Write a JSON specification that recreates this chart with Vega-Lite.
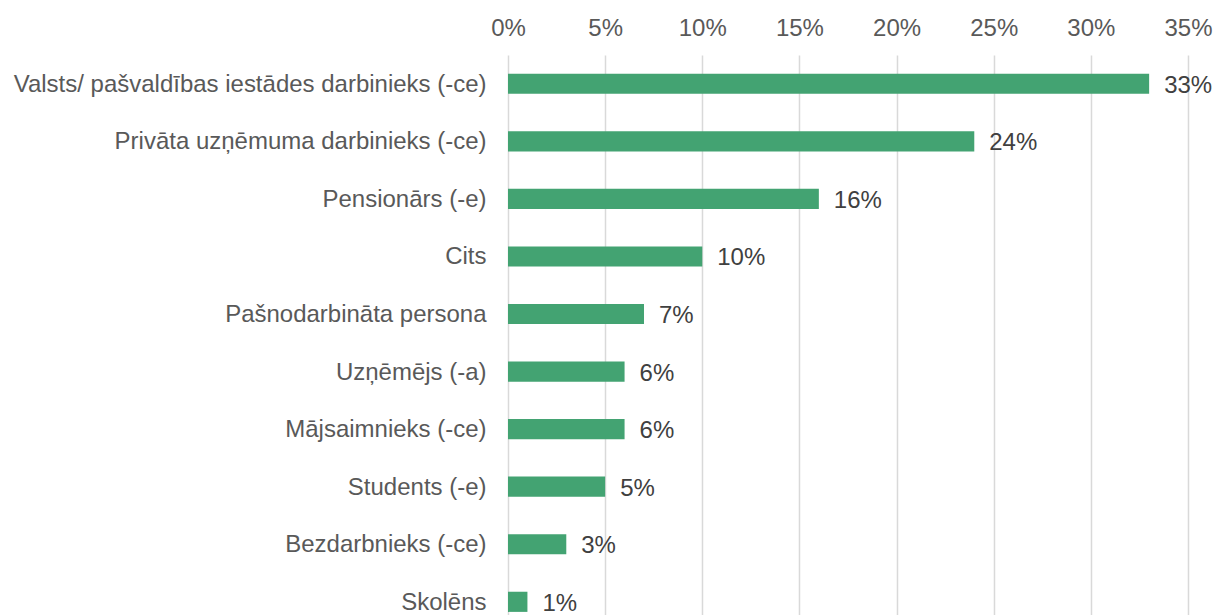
{
  "$schema": "https://vega.github.io/schema/vega-lite/v6.json",
  "autosize": "none",
  "width": 680,
  "height": 575.6,
  "padding": {"left": 508, "top": 55, "right": 29, "bottom": 0},
  "background": "white",
  "config": {"view": {"stroke": null}, "font": "Liberation Sans"},
  "data": {"values": [
    {"category": "Valsts/ pašvaldības iestādes darbinieks (-ce)", "value": 0.33},
    {"category": "Privāta uzņēmuma darbinieks (-ce)", "value": 0.24},
    {"category": "Pensionārs (-e)", "value": 0.16},
    {"category": "Cits ", "value": 0.10},
    {"category": "Pašnodarbināta persona", "value": 0.07},
    {"category": "Uzņēmējs (-a)", "value": 0.06},
    {"category": "Mājsaimnieks (-ce)", "value": 0.06},
    {"category": "Students (-e)", "value": 0.05},
    {"category": "Bezdarbnieks (-ce)", "value": 0.03},
    {"category": "Skolēns", "value": 0.01}
  ]},
  "encoding": {
    "y": {"field": "category", "type": "nominal", "sort": null,
      "scale": {"paddingInner": 0.65, "paddingOuter": 0.325},
      "axis": {"title": null, "domain": false, "ticks": false, "labelPadding": 22, "labelFontSize": 24, "labelColor": "#595959", "labelLimit": 700, "labelOffset": 1}},
    "x": {"field": "value", "type": "quantitative",
      "scale": {"domain": [0, 0.35], "nice": false},
      "axis": {"orient": "top", "title": null, "format": ".0%", "values": [0, 0.05, 0.1, 0.15, 0.2, 0.25, 0.3, 0.35], "domain": false, "ticks": false, "labelFlush": false, "labelPadding": 14, "labelFontSize": 24, "labelColor": "#595959", "gridColor": "#d9d9d9", "gridWidth": 1.5}}
  },
  "layer": [
    {"mark": {"type": "bar", "color": "#43A372"}},
    {"mark": {"type": "text", "align": "left", "dx": 15, "dy": 2, "fontSize": 24, "color": "#404040"},
     "encoding": {"text": {"field": "value", "type": "quantitative", "format": ".0%"}}}
  ]
}
